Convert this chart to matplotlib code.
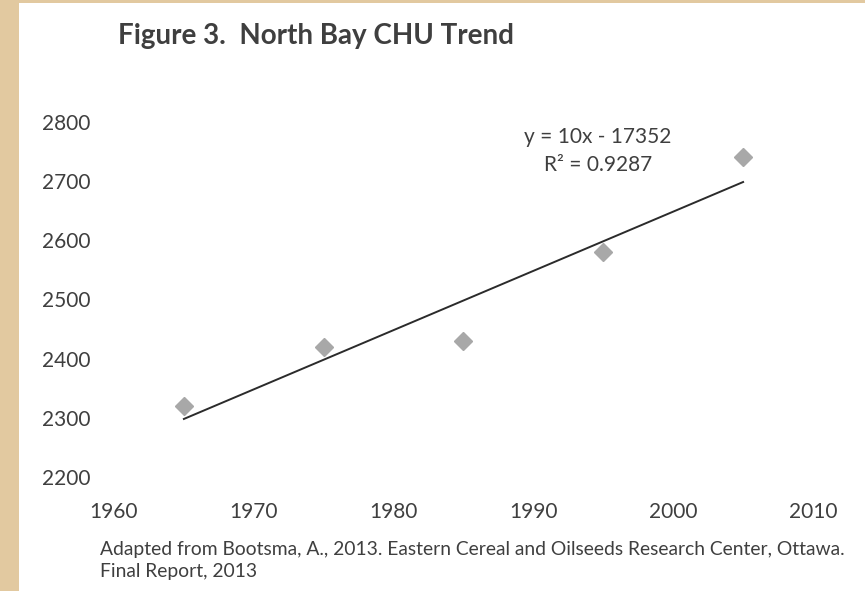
import matplotlib.pyplot as plt
from matplotlib.patches import Rectangle
import numpy as np

# data
years = [1965, 1975, 1985, 1995, 2005]
chu = [2320, 2420, 2430, 2580, 2740]
x_ticks = [1960, 1970, 1980, 1990, 2000, 2010]
y_ticks = [2200, 2300, 2400, 2500, 2600, 2700, 2800]

plt.rcParams['font.family'] = ['Lato', 'DejaVu Sans']
text_color = '#3f3f3f'

fig = plt.figure(figsize=(8.65, 5.91), dpi=100)
fig.patch.set_facecolor('#e2c9a0')
# white panel over the parchment
fig.add_artist(Rectangle((19 / 865, 0), 1, 588 / 591, transform=fig.transFigure,
                         facecolor='white', edgecolor='none', zorder=0))

ax = fig.add_axes([114 / 865, 114 / 591, 699 / 865, 355.4 / 591])
ax.set_facecolor('none')

# points and linear trend
ax.plot(years, chu, linestyle='none', marker='D', markersize=9,
        color='#a8a8a8', zorder=3)
slope, intercept = np.polyfit(years, chu, 1)
fit_x = np.array([years[0], years[-1]])
ax.plot(fit_x, slope * fit_x + intercept, color='#2b2b2b', linewidth=1.4, zorder=2)

ax.set_xlim(1960, 2010)
ax.set_ylim(2200, 2800)
ax.set_xticks(x_ticks)
ax.set_yticks(y_ticks)
for side in ['top', 'right', 'bottom', 'left']:
    ax.spines[side].set_visible(False)
ax.tick_params(axis='both', length=0, labelsize=15, colors=text_color)
ax.tick_params(axis='y', pad=17)
ax.tick_params(axis='x', pad=18)

# trendline label
ax.text(1994.6, 2774, 'y = 10x - 17352', ha='center', va='center',
        fontsize=15, color=text_color)
ax.text(1994.6, 2727, 'R² = 0.9287', ha='center', va='center',
        fontsize=15, color=text_color)

fig.text(118 / 865, 1 - 36 / 591, 'Figure 3.  North Bay CHU Trend', ha='left',
         va='center', fontsize=20, fontweight='bold', color=text_color)
fig.text(100 / 865, 1 - 549 / 591,
         'Adapted from Bootsma, A., 2013. Eastern Cereal and Oilseeds Research Center, Ottawa.',
         ha='left', va='center', fontsize=13.9, color=text_color)
fig.text(100 / 865, 1 - 571 / 591, 'Final Report, 2013', ha='left', va='center',
         fontsize=13.9, color=text_color)

fig.savefig('out.png', dpi=100, facecolor=fig.get_facecolor())
